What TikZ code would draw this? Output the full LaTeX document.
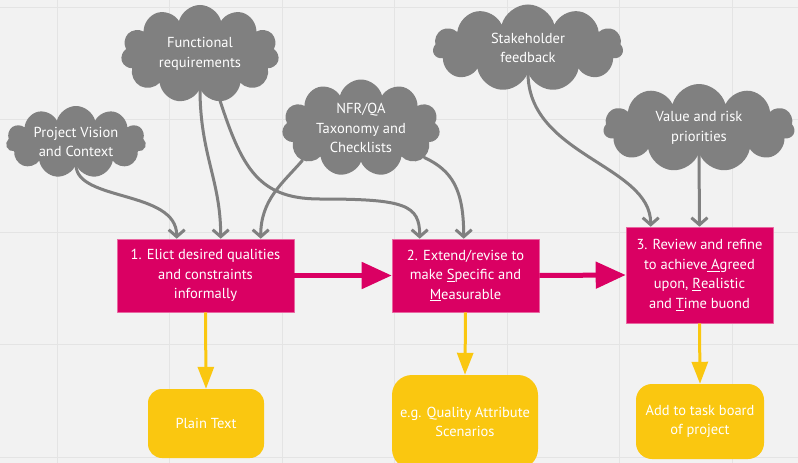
\documentclass[tikz,border=0pt]{standalone}
\usepackage{fontspec}
\setmainfont{PT Sans}
\usetikzlibrary{shapes.symbols,arrows.meta}

\begin{document}
\begin{tikzpicture}[x=1pt,y=1pt,line join=round,line cap=round,font=\fontsize{14.5}{19.5}\selectfont]
		\definecolor{nen}{RGB}{242,242,242}
		\definecolor{luoi}{RGB}{228,228,228}
		\definecolor{xam}{RGB}{128,128,128}
		\definecolor{hong}{RGB}{218,0,99}
		\definecolor{vang}{RGB}{250,199,16}
		
		\clip (0,0) rectangle (798,-463);
		\fill[nen] (0,0) rectangle (798,-463);
		%luoi nen
		\foreach \i in {0,...,6} \draw[luoi,line width=1pt] (57+112.5*\i,0)--(57+112.5*\i,-463);
		\foreach \j in {0,...,4} \draw[luoi,line width=1pt] (0,-7-112.5*\j)--(798,-7-112.5*\j);
		
		\tikzset{
			may/.style={cloud,cloud puffs=11,cloud ignores aspect,fill=xam,text=white,align=center,inner sep=0pt},
			buoc/.style={rectangle,fill=hong,draw=hong!60!white,line width=.6pt,text=white,align=center,inner sep=0pt},
			ketqua/.style={rectangle,rounded corners=14pt,fill=vang,text=white,align=center,inner sep=0pt},
			vao/.style={xam,line width=3pt,-{Straight Barb[length=7pt,width=16pt]}},
			tiep/.style={hong,line width=5pt,line cap=butt,-{Triangle[length=30pt,width=26pt]}},
			ra/.style={vang,line width=3pt,line cap=butt,-{Triangle[length=22pt,width=16pt]}}
		}
		
		\node[may,minimum width=140,minimum height=72] (pv) at (76,-142) {Project Vision\\and Context};
		\node[may,minimum width=158,minimum height=98] (fr) at (200,-54) {Functional\\requirements};
		\node[may,minimum width=158,minimum height=97] (nfr) at (361,-128) {NFR/QA\\Taxonomy and\\Checklists};
		\node[may,minimum width=190,minimum height=87] (sh) at (528,-48) {Stakeholder\\feedback};
		\node[may,minimum width=191,minimum height=88] (vr) at (699,-128) {Value and risk\\priorities};
		
		\node[buoc,minimum width=177,minimum height=73] (b1) at (205.5,-275.5) {1. Elict desired qualities\\and constraints\\informally};
		\node[buoc,minimum width=147,minimum height=73] (b2) at (465.5,-275.5) {2. Extend/revise to\\make \underline{S}pecific and\\\underline{M}easurable};
		\node[buoc,minimum width=147,minimum height=96] (b3) at (699.5,-275) {3. Review and refine\\to achieve\underline{ A}greed\\upon, \underline{R}ealistic\\and \underline{T}ime buond};
		
		\node[ketqua,minimum width=116,minimum height=69] (k1) at (206,-423.5) {Plain Text};
		\node[ketqua,rounded corners=20pt,minimum width=146,minimum height=94] (k2) at (465,-422) {e.g. Quality Attribute\\Scenarios};
		\node[ketqua,rounded corners=16pt,minimum width=128,minimum height=75] (k3) at (700,-421.5) {Add to task board\\of project};
		
		\draw[vao] (pv.south) .. controls +(0,-37) and +(0,49) .. ([xshift=60pt]b1.north west);
		\draw[vao] (fr.south) .. controls +(0,-66) and +(0,59) .. ([xshift=104pt]b1.north west);
		\draw[vao] ([xshift=15pt,yshift=4pt]fr.south) .. controls +(25,-80) and +(-65,0) .. (320,-199)
		.. controls +(85,0) and +(0,34) .. ([xshift=28pt]b2.north west);
		\draw[vao] (nfr.209) .. controls +(-20,-23) and +(0,39) .. ([xshift=144pt]b1.north west);
		\draw[vao] (nfr.-25) .. controls +(28,-13) and +(0,49) .. ([xshift=72pt]b2.north west);
		\draw[vao] (sh.south) .. controls +(0,-83) and +(0,62) .. ([xshift=25pt]b3.north west);
		\draw[vao] (vr.south) -- (b3.north);
		
		\draw[tiep] (b1.east) -- (b2.west);
		\draw[tiep] (b2.east) -- (b3.west);
		
		\draw[ra] (b1.south) -- (k1.north);
		\draw[ra] (b2.south) -- (k2.north);
		\draw[ra] (b3.south) -- (k3.north);
	\end{tikzpicture}
\end{document}
